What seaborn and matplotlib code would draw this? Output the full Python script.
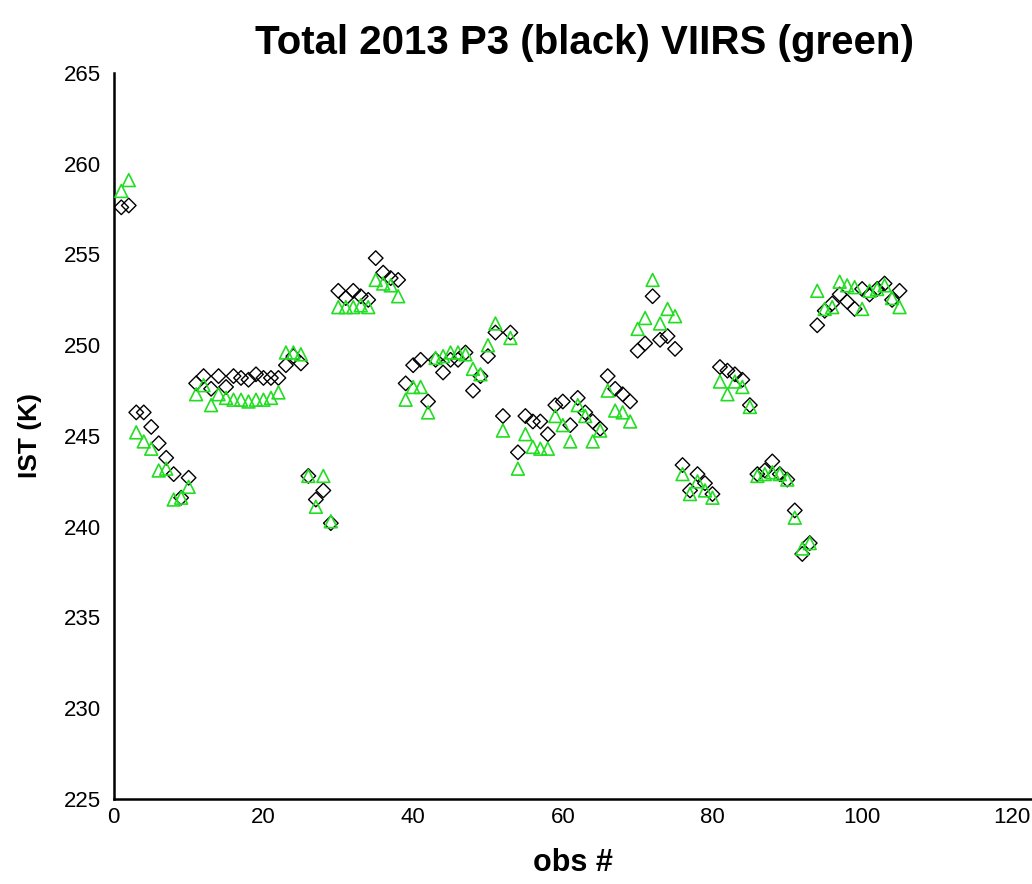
import numpy as np
import pandas as pd
import matplotlib
matplotlib.use("Agg")
import matplotlib.pyplot as plt
import seaborn as sns

obs = list(range(1, 106))

p3_black = [
    257.6, 257.7, 246.3, 246.3, 245.5, 244.6, 243.8, 242.9, 241.6, 242.7,
    247.9, 248.3, 247.6, 248.3, 247.7, 248.3, 248.2, 248.1, 248.4, 248.2,
    248.2, 248.2, 248.9, 249.4, 249.0, 242.8, 241.5, 242.0, 240.2, 253.0,
    252.6, 253.0, 252.7, 252.5, 254.8, 254.0, 253.7, 253.6, 247.9, 248.9,
    249.2, 246.9, 249.2, 248.5, 249.2, 249.2, 249.6, 247.5, 248.3, 249.4,
    250.7, 246.1, 250.7, 244.1, 246.1, 245.8, 245.8, 245.1, 246.7, 246.9,
    245.6, 247.1, 246.3, 245.8, 245.4, 248.3, 247.6, 247.3, 246.9, 249.7,
    250.1, 252.7, 250.3, 250.5, 249.8, 243.4, 242.0, 242.9, 242.4, 241.8,
    248.8, 248.6, 248.4, 248.1, 246.7, 242.9, 243.1, 243.6, 242.9, 242.6,
    240.9, 238.5, 239.1, 251.1, 251.9, 252.3, 252.8, 252.4, 252.0, 253.1,
    252.8, 253.1, 253.4, 252.5, 253.0,
]

viirs_green = [
    258.5, 259.1, 245.2, 244.7, 244.3, 243.1, 243.2, 241.5, 241.6, 242.2,
    247.3, 247.8, 246.7, 247.3, 247.1, 247.0, 247.0, 246.9, 247.0, 247.0,
    247.1, 247.4, 249.6, 249.6, 249.5, 242.8, 241.1, 242.8, 240.3, 252.1,
    252.1, 252.1, 252.2, 252.1, 253.6, 253.4, 253.3, 252.7, 247.0, 247.7,
    247.7, 246.3, 249.3, 249.4, 249.6, 249.6, 249.5, 248.7, 248.4, 250.0,
    251.2, 245.3, 250.4, 243.2, 245.1, 244.4, 244.3, 244.3, 246.1, 245.6,
    244.7, 246.7, 246.1, 244.7, 245.3, 247.5, 246.4, 246.3, 245.8, 250.9,
    251.5, 253.6, 251.2, 252.0, 251.6, 242.9, 241.8, 242.5, 242.0, 241.6,
    248.0, 247.3, 248.0, 247.7, 246.6, 242.8, 242.9, 243.0, 242.9, 242.6,
    240.5, 238.8, 239.1, 253.0, 252.0, 252.1, 253.5, 253.3, 253.2, 252.0,
    253.0, 253.1, 253.3, 252.6, 252.1,
]

x_ticks = [0, 20, 40, 60, 80, 100, 120]
y_ticks = [225, 230, 235, 240, 245, 250, 255, 260, 265]

df = pd.DataFrame({"obs": obs, "p3": p3_black, "viirs": viirs_green})

sns.set_style("white")
fam = ["Liberation Sans", "DejaVu Sans"]
plt.rcParams["font.family"] = fam
plt.rcParams["text.color"] = "black"
plt.rcParams["axes.labelcolor"] = "black"
plt.rcParams["xtick.color"] = "black"
plt.rcParams["ytick.color"] = "black"

fig = plt.figure(figsize=(10.32, 8.84), dpi=100)
ax = fig.add_axes([113.8 / 1032, (884 - 799) / 884, (1032 - 113.8) / 1032, (799 - 73) / 884])

sns.scatterplot(data=df, x="obs", y="p3", marker="D", s=55, facecolors="none",
                edgecolors="black", linewidths=1.0, ax=ax, zorder=3)
sns.scatterplot(data=df, x="obs", y="viirs", marker="^", s=85, facecolors="none",
                edgecolors="#22dd22", linewidths=1.2, ax=ax, zorder=4)

ax.set_xlim(0, 122.7)
ax.set_ylim(225, 265)
ax.set_xticks(x_ticks)
ax.set_yticks(y_ticks)
ax.tick_params(axis="both", direction="in", length=8, width=1.2, labelsize=16,
               colors="black", labelcolor="black")
ax.tick_params(axis="y", pad=9)
ax.tick_params(axis="x", pad=6)
for s in ["top", "right"]:
    ax.spines[s].set_visible(False)
for s in ["left", "bottom"]:
    ax.spines[s].set_color("black")
    ax.spines[s].set_linewidth(1.8)

ax.set_title("Total 2013 P3 (black) VIIRS (green)", fontsize=29, fontweight="bold",
             pad=14, x=0.513, color="black", family=fam)
ax.set_xlabel("obs #", fontsize=22, fontweight="bold", labelpad=14, color="black", family=fam)
ax.set_ylabel("IST (K)", fontsize=19, fontweight="bold", labelpad=16, color="black", family=fam)

fig.savefig("out.png", dpi=100)
